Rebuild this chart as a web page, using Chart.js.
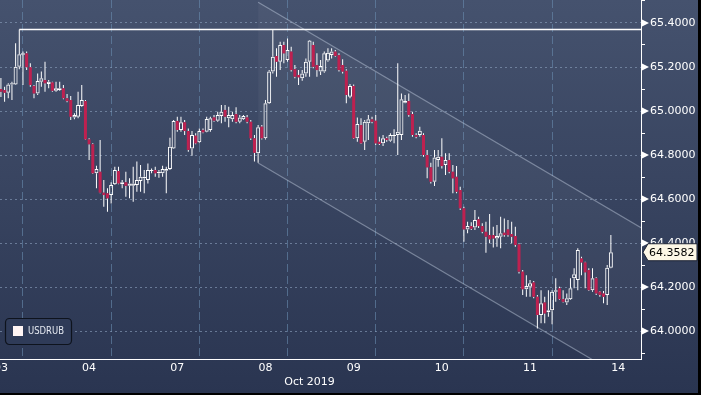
<!DOCTYPE html>
<html>
<head>
<meta charset="utf-8">
<script src="https://cdn.jsdelivr.net/npm/chart.js@4.4.1/dist/chart.umd.min.js"></script>
<style>
    html, body { margin: 0; padding: 0; background: #000; }
    #wrap { width: 698px; height: 393px; }
</style>
</head>
<body>
<div id="wrap"><canvas id="chart"></canvas></div>
<script>
// USDRUB hourly candles, 03 - 14 Oct 2019
const dayLabels = ['03', '04', '07', '08', '09', '10', '11', '14'];
const monthLabel = 'Oct 2019';
const monthLabelHour = 96;      // between 08 and 09
const seriesName = 'USDRUB';
const firstHour = 12;           // hour index of the first visible candle
const hoursPerDay = 24;

const opens = [
    65.100, 65.095, 65.083, 65.121, 65.121, 65.201, 65.256, 65.262, 65.199, 65.114,
    65.080, 65.133, 65.141, 65.123, 65.130, 65.092, 65.095, 65.103, 65.058, 65.050,
    64.971, 64.974, 65.023, 65.045, 64.871, 64.849, 64.717, 64.724, 64.629, 64.626,
    64.618, 64.667, 64.727, 64.667, 64.676, 64.660, 64.660, 64.664, 64.682, 64.694,
    64.686, 64.727, 64.732, 64.717, 64.717, 64.729, 64.736, 64.830, 64.955, 64.914,
    64.949, 64.909, 64.830, 64.888, 64.858, 64.914, 64.906, 64.914, 64.971, 64.956,
    64.977, 65.005, 64.967, 64.962, 64.986, 64.951, 64.962, 64.971, 64.951, 64.876,
    64.808, 64.929, 64.876, 65.035, 65.179, 65.250, 65.224, 65.300, 65.232, 65.270,
    65.190, 65.164, 65.149, 65.171, 65.224, 65.300, 65.209, 65.179, 65.179, 65.229,
    65.254, 65.270, 65.254, 65.209, 65.183, 65.065, 65.114, 64.876, 64.936, 64.860,
    64.944, 64.962, 64.956, 64.860, 64.853, 64.876, 64.865, 64.886, 64.891, 64.891,
    65.038, 65.045, 64.986, 64.891, 64.891, 64.891, 64.800, 64.744, 64.679, 64.777,
    64.792, 64.755, 64.777, 64.724, 64.701, 64.641, 64.558, 64.462, 64.477, 64.471,
    64.508, 64.477, 64.451, 64.436, 64.436, 64.421, 64.429, 64.447, 64.462, 64.441,
    64.432, 64.394, 64.270, 64.190, 64.201, 64.221, 64.156, 64.073, 64.130, 64.085,
    64.095, 64.179, 64.194, 64.145, 64.130, 64.145, 64.240, 64.232, 64.330, 64.312,
    64.277, 64.186, 64.240, 64.179, 64.171, 64.164, 64.288
];
const highs = [
    65.150, 65.110, 65.126, 65.133, 65.308, 65.371, 65.270, 65.270, 65.217, 65.118,
    65.171, 65.179, 65.224, 65.141, 65.133, 65.133, 65.133, 65.118, 65.077, 65.068,
    64.990, 65.088, 65.118, 65.050, 64.876, 64.853, 64.751, 64.868, 64.686, 64.649,
    64.676, 64.747, 64.747, 64.686, 64.724, 64.694, 64.747, 64.770, 64.755, 64.732,
    64.762, 64.739, 64.747, 64.732, 64.751, 64.747, 64.879, 64.959, 64.974, 64.974,
    64.959, 64.921, 64.909, 64.899, 64.921, 64.921, 64.974, 64.974, 64.982, 64.997,
    65.027, 65.027, 65.019, 64.997, 65.017, 64.982, 64.982, 64.982, 64.959, 64.891,
    64.936, 64.936, 65.050, 65.186, 65.371, 65.285, 65.315, 65.315, 65.330, 65.292,
    65.209, 65.186, 65.186, 65.239, 65.323, 65.315, 65.262, 65.232, 65.270, 65.285,
    65.285, 65.277, 65.262, 65.235, 65.190, 65.123, 65.120, 64.971, 64.967, 64.959,
    64.982, 64.974, 64.982, 64.883, 64.891, 64.883, 64.899, 64.917, 65.217, 65.080,
    65.073, 65.080, 64.997, 64.899, 64.929, 64.899, 64.823, 64.765, 64.823, 64.823,
    64.876, 64.808, 64.808, 64.755, 64.750, 64.656, 64.565, 64.497, 64.495, 64.550,
    64.520, 64.490, 64.497, 64.532, 64.474, 64.482, 64.520, 64.512, 64.505, 64.497,
    64.474, 64.399, 64.277, 64.254, 64.232, 64.227, 64.164, 64.186, 64.156, 64.186,
    64.186, 64.240, 64.201, 64.186, 64.171, 64.240, 64.285, 64.376, 64.338, 64.315,
    64.285, 64.285, 64.245, 64.182, 64.182, 64.300, 64.437
];
const lows = [
    65.064, 65.042, 65.058, 65.050, 65.118, 65.190, 65.118, 65.186, 65.110, 65.058,
    65.073, 65.110, 65.088, 65.103, 65.088, 65.088, 65.092, 65.053, 65.040, 64.959,
    64.962, 64.967, 65.019, 64.868, 64.777, 64.714, 64.649, 64.626, 64.565, 64.542,
    64.580, 64.664, 64.667, 64.649, 64.610, 64.603, 64.588, 64.633, 64.633, 64.626,
    64.671, 64.717, 64.701, 64.697, 64.701, 64.626, 64.732, 64.827, 64.906, 64.906,
    64.891, 64.815, 64.797, 64.849, 64.853, 64.899, 64.903, 64.906, 64.951, 64.951,
    64.944, 64.951, 64.926, 64.951, 64.944, 64.944, 64.959, 64.944, 64.868, 64.770,
    64.765, 64.871, 64.871, 65.032, 65.171, 65.156, 65.186, 65.217, 65.224, 65.179,
    65.149, 65.118, 65.138, 65.156, 65.156, 65.194, 65.156, 65.164, 65.174, 65.224,
    65.239, 65.247, 65.179, 65.171, 65.035, 65.058, 64.873, 64.860, 64.850, 64.823,
    64.868, 64.944, 64.845, 64.845, 64.841, 64.860, 64.860, 64.853, 64.800, 64.868,
    65.035, 64.974, 64.883, 64.876, 64.883, 64.792, 64.694, 64.671, 64.659, 64.747,
    64.739, 64.709, 64.717, 64.626, 64.626, 64.550, 64.406, 64.444, 64.459, 64.459,
    64.468, 64.444, 64.356, 64.399, 64.380, 64.383, 64.376, 64.429, 64.429, 64.399,
    64.383, 64.262, 64.164, 64.156, 64.156, 64.149, 64.012, 64.035, 64.035, 64.065,
    64.031, 64.133, 64.141, 64.130, 64.118, 64.141, 64.194, 64.186, 64.254, 64.194,
    64.182, 64.179, 64.164, 64.156, 64.126, 64.118, 64.285
];
const closes = [
    65.088, 65.083, 65.121, 65.126, 65.201, 65.258, 65.262, 65.199, 65.118, 65.080,
    65.136, 65.149, 65.126, 65.133, 65.092, 65.103, 65.103, 65.058, 65.045, 64.974,
    64.982, 65.027, 65.050, 64.871, 64.849, 64.717, 64.736, 64.629, 64.618, 64.603,
    64.664, 64.732, 64.671, 64.676, 64.660, 64.671, 64.671, 64.686, 64.701, 64.701,
    64.732, 64.732, 64.717, 64.724, 64.736, 64.736, 64.838, 64.955, 64.914, 64.949,
    64.909, 64.823, 64.891, 64.853, 64.909, 64.903, 64.964, 64.967, 64.956, 64.982,
    64.997, 64.974, 64.982, 64.982, 64.951, 64.971, 64.977, 64.951, 64.876, 64.810,
    64.926, 64.876, 65.035, 65.179, 65.247, 65.224, 65.300, 65.262, 65.277, 65.186,
    65.156, 65.153, 65.171, 65.224, 65.320, 65.201, 65.186, 65.205, 65.262, 65.265,
    65.270, 65.250, 65.186, 65.179, 65.073, 65.114, 64.876, 64.941, 64.853, 64.951,
    64.962, 64.951, 64.853, 64.850, 64.876, 64.868, 64.891, 64.891, 64.906, 65.053,
    65.045, 64.982, 64.891, 64.883, 64.910, 64.800, 64.744, 64.679, 64.789, 64.792,
    64.750, 64.777, 64.724, 64.694, 64.633, 64.558, 64.462, 64.477, 64.465, 64.505,
    64.477, 64.451, 64.429, 64.417, 64.421, 64.432, 64.444, 64.436, 64.436, 64.429,
    64.391, 64.270, 64.190, 64.205, 64.217, 64.156, 64.073, 64.126, 64.080, 64.095,
    64.179, 64.186, 64.145, 64.133, 64.149, 64.194, 64.258, 64.368, 64.312, 64.267,
    64.186, 64.240, 64.171, 64.164, 64.156, 64.288, 64.3582
];

// axis ranges and tick values
const xMin = 11.75;
const xMax = 186.2;
const yMin = 63.873;
const yMax = 65.5045;
const yTickValues = [63.9, 64.0, 64.1, 64.2, 64.3, 64.4, 64.5, 64.6, 64.7, 64.8, 64.9, 65.0, 65.1, 65.2, 65.3, 65.4, 65.5];

// falling channel drawn on the chart (hour, price)
const channelHours = [82, 186.2];
const channelUpper = [65.494, 64.470];
const channelLower = [64.764, 63.740];

const FONT = '"DejaVu Sans", "Liberation Sans", sans-serif';
Chart.defaults.font.family = FONT;

const hours = opens.map((_, i) => firstHour + i);
const isUp = (i) => closes[i] >= opens[i];

const resistance = Math.max(...highs);
const resistanceHour = hours[highs.indexOf(resistance)];

const dayCenters = dayLabels.map((_, i) => i * hoursPerDay + hoursPerDay / 2);
const dayBounds = dayLabels.slice(1).map((_, i) => (i + 1) * hoursPerDay);
const xTickHours = [...dayCenters, ...dayBounds].sort((a, b) => a - b);

function isMajor(v) {
    return Math.round(v * 10) % 2 === 0;
}

const backgroundPlugin = {
    id: 'background',
    beforeDraw(chart) {
        const { ctx, width, height } = chart;
        const g = ctx.createLinearGradient(0, 0, 0, height);
        g.addColorStop(0, '#45526e');
        g.addColorStop(1, '#2a3551');
        ctx.save();
        ctx.fillStyle = g;
        ctx.fillRect(0, 0, width, height);
        ctx.restore();
    }
};

const overlayPlugin = {
    id: 'overlay',
    afterDraw(chart) {
        const { ctx, chartArea, scales } = chart;
        const yScale = scales.y;
        ctx.save();

        // little arrows at the major price ticks
        ctx.fillStyle = '#ffffff';
        yTickValues.filter(isMajor).forEach(v => {
            const y = yScale.getPixelForValue(v);
            ctx.beginPath();
            ctx.moveTo(chartArea.right + 1, y - 3.5);
            ctx.lineTo(chartArea.right + 8, y);
            ctx.lineTo(chartArea.right + 1, y + 3.5);
            ctx.closePath();
            ctx.fill();
        });

        // last price tag
        const last = closes[closes.length - 1];
        const ly = yScale.getPixelForValue(last);
        const bx = chartArea.right + 7;
        ctx.beginPath();
        ctx.moveTo(chartArea.right + 2, ly);
        ctx.lineTo(bx, ly - 8.5);
        ctx.lineTo(chart.width - 1, ly - 8.5);
        ctx.lineTo(chart.width - 1, ly + 8.5);
        ctx.lineTo(bx, ly + 8.5);
        ctx.closePath();
        ctx.fillStyle = '#fdf7e6';
        ctx.fill();
        ctx.strokeStyle = '#1d2333';
        ctx.lineWidth = 1;
        ctx.stroke();
        ctx.fillStyle = '#000000';
        ctx.font = '11px ' + FONT;
        ctx.textBaseline = 'middle';
        ctx.textAlign = 'left';
        ctx.fillText(last.toFixed(4), bx + 1, ly + 0.5);

        // legend box
        const lx = chartArea.left + 5;
        const lt = chartArea.bottom - 41;
        ctx.beginPath();
        ctx.roundRect(lx + 0.5, lt + 0.5, 66, 26, 4);
        ctx.fillStyle = '#2f3b58';
        ctx.fill();
        ctx.strokeStyle = '#0e131d';
        ctx.lineWidth = 1.2;
        ctx.stroke();
        ctx.fillStyle = '#fff4f4';
        ctx.fillRect(lx + 8, lt + 8, 10, 10);
        ctx.font = '11px ' + FONT;
        const tw = ctx.measureText(seriesName).width;
        ctx.translate(lx + 23, lt + 13.5);
        ctx.scale(Math.min(1, 36 / tw), 1);
        ctx.fillStyle = '#e4e8f0';
        ctx.fillText(seriesName, 0, 0);
        ctx.restore();
    }
};

const config = {
    type: 'bar',
    data: {
        datasets: [
            {
                type: 'line',
                data: channelHours.map((h, i) => ({ x: h, y: channelUpper[i] })),
                borderColor: 'rgba(200, 210, 228, 0.45)',
                borderWidth: 1.2,
                backgroundColor: 'rgba(255, 255, 255, 0.04)',
                fill: '+1',
                pointRadius: 0,
                order: 5
            },
            {
                type: 'line',
                data: channelHours.map((h, i) => ({ x: h, y: channelLower[i] })),
                borderColor: 'rgba(200, 210, 228, 0.45)',
                borderWidth: 1.2,
                fill: false,
                pointRadius: 0,
                order: 5
            },
            {
                type: 'line',
                data: [{ x: resistanceHour, y: resistance }, { x: xMax, y: resistance }],
                borderColor: '#ffffff',
                borderWidth: 1.5,
                fill: false,
                pointRadius: 0,
                order: 4
            },
            {
                // upper wicks
                data: hours.map((h, i) => ({ x: h, y: [Math.max(opens[i], closes[i]), highs[i]] })),
                backgroundColor: '#ffffff',
                barThickness: 1,
                grouped: false,
                inflateAmount: 0,
                order: 3
            },
            {
                // lower wicks
                data: hours.map((h, i) => ({ x: h, y: [lows[i], Math.min(opens[i], closes[i])] })),
                backgroundColor: '#ffffff',
                barThickness: 1,
                grouped: false,
                inflateAmount: 0,
                order: 3
            },
            {
                // falling candles
                data: hours.filter((_, i) => !isUp(i)).map(h => {
                    const i = h - firstHour;
                    return { x: h, y: [closes[i], opens[i]] };
                }),
                backgroundColor: '#be2150',
                barThickness: 3,
                grouped: false,
                inflateAmount: 0,
                order: 1
            },
            {
                // rising candles (hollow)
                data: hours.filter((_, i) => isUp(i)).map(h => {
                    const i = h - firstHour;
                    return { x: h, y: [opens[i], closes[i]] };
                }),
                backgroundColor: 'rgba(0, 0, 0, 0)',
                borderColor: '#ffffff',
                borderWidth: 1,
                borderSkipped: false,
                barThickness: 4,
                grouped: false,
                inflateAmount: 0,
                order: 1
            }
        ]
    },
    options: {
        responsive: true,
        maintainAspectRatio: false,
        animation: false,
        layout: { padding: 0 },
        plugins: {
            legend: { display: false },
            tooltip: { enabled: false }
        },
        scales: {
            x: {
                type: 'linear',
                min: xMin,
                max: xMax,
                offset: false,
                afterBuildTicks: (scale) => {
                    scale.ticks = xTickHours.map(v => ({ value: v }));
                },
                afterFit: (scale) => {
                    scale.height = 34;
                    scale.paddingLeft = 0;
                    scale.paddingRight = 0;
                },
                ticks: {
                    autoSkip: false,
                    maxRotation: 0,
                    padding: 3,
                    color: '#ffffff',
                    font: { size: 11 },
                    callback: (value) => {
                        const c = dayCenters.indexOf(value);
                        if (c >= 0) return dayLabels[c];
                        if (value === monthLabelHour) return ['', monthLabel];
                        return '';
                    }
                },
                grid: {
                    color: (ctx) => dayBounds.includes(ctx.tick && ctx.tick.value) ? 'rgba(105, 140, 175, 0.6)' : 'rgba(0,0,0,0)',
                    drawTicks: false,
                    lineWidth: 1
                },
                border: { color: '#ffffff', width: 1, dash: [8, 4] }
            },
            y: {
                position: 'right',
                min: yMin,
                max: yMax,
                afterBuildTicks: (scale) => {
                    scale.ticks = yTickValues.map(v => ({ value: v }));
                },
                afterFit: (scale) => {
                    scale.width = 57;
                    scale.paddingTop = 0;
                    scale.paddingBottom = 0;
                },
                ticks: {
                    color: '#ffffff',
                    padding: 5,
                    font: { size: 11 },
                    callback: (value) => isMajor(value) ? value.toFixed(4) : ''
                },
                grid: {
                    color: (ctx) => ctx.tick && isMajor(ctx.tick.value) ? 'rgba(135, 155, 185, 0.65)' : 'rgba(0,0,0,0)',
                    tickColor: '#ffffff',
                    tickLength: 4,
                    tickBorderDash: [],
                    lineWidth: 1
                },
                border: { color: '#ffffff', width: 1, dash: [2, 3] }
            }
        }
    },
    plugins: [backgroundPlugin, overlayPlugin]
};

new Chart(document.getElementById('chart'), config);
</script>
</body>
</html>
